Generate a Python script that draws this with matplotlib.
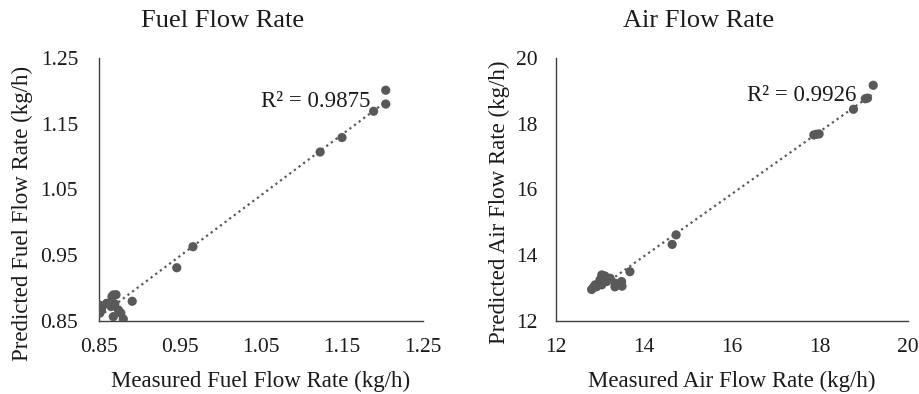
"""
Measured vs predicted flow rates - fuel and air
"""
import numpy as np
import matplotlib
matplotlib.use('Agg')
import matplotlib.pyplot as plt

# Fuel flow rate (kg/h)
fuel_measured = [0.851, 0.851, 0.853, 0.854, 0.8595, 0.865, 0.866, 0.8677, 0.8677,
                 0.8695, 0.871, 0.874, 0.877, 0.880, 0.891, 0.946, 0.966,
                 1.123, 1.150, 1.189, 1.204, 1.204]
fuel_predicted = [0.862, 0.874, 0.8667, 0.872, 0.877, 0.872, 0.887, 0.8566, 0.8896,
                  0.876, 0.890, 0.8667, 0.862, 0.853, 0.880, 0.931, 0.963,
                  1.107, 1.129, 1.169, 1.180, 1.201]
fuel_r2 = "R\u00b2 = 0.9875"

# Air flow rate (kg/h)
air_measured = [12.81, 12.85, 12.89, 12.92, 13.00, 13.04, 13.04, 13.11, 13.15, 13.23,
                13.34, 13.34, 13.49, 13.50, 13.68, 14.64, 14.73,
                17.86, 17.92, 17.98, 18.76, 19.03, 19.08, 19.21]
air_predicted = [12.96, 13.02, 13.10, 13.04, 13.25, 13.10, 13.40, 13.37, 13.20, 13.30,
                 13.15, 13.04, 13.20, 13.06, 13.50, 14.33, 14.62,
                 17.66, 17.68, 17.69, 18.44, 18.76, 18.78, 19.17]
air_r2 = "R\u00b2 = 0.9926"

fuel_ticks = [0.85, 0.95, 1.05, 1.15, 1.25]
air_ticks = [12, 14, 16, 18, 20]

plt.rcParams['font.family'] = ['Liberation Serif', 'DejaVu Serif']

DOT = '#595959'
TXT = '#1a1a1a'


def draw_panel(ax, x, y, ticks, fmt, r2_text, r2_pos, xlabel, ylabel, ylab_xy, ypad):
    x = np.array(x)
    y = np.array(y)

    # linear trendline through the points
    slope, icpt = np.polyfit(x, y, 1)
    xs = np.array([x.min(), x.max()])
    ax.plot(xs, slope * xs + icpt, color=DOT, linestyle=(0, (1, 1.6)), linewidth=1.6, zorder=2)

    ax.scatter(x, y, s=44, color=DOT, edgecolors='none', zorder=3)

    ax.set_xlim(ticks[0], ticks[-1])
    ax.set_ylim(ticks[0], ticks[-1])
    ax.set_xticks(ticks)
    ax.set_yticks(ticks)
    ax.set_xticklabels([fmt.format(t) for t in ticks])
    ax.set_yticklabels([fmt.format(t) for t in ticks])
    ax.tick_params(axis='x', length=0, pad=12, labelsize=15.5, labelcolor=TXT)
    ax.tick_params(axis='y', length=0, pad=ypad, labelsize=15.5, labelcolor=TXT)

    for side in ['top', 'right']:
        ax.spines[side].set_visible(False)
    for side in ['left', 'bottom']:
        ax.spines[side].set_color('#404040')
        ax.spines[side].set_linewidth(1.0)

    ax.text(r2_pos[0], r2_pos[1], r2_text, ha='right', va='center', fontsize=16.5, color=TXT)

    ax.set_xlabel(xlabel, fontsize=16.5, color=TXT, labelpad=10)
    ax.set_ylabel(ylabel, fontsize=16.5, color=TXT)
    ax.yaxis.set_label_coords(ylab_xy[0], ylab_xy[1])


fig = plt.figure(figsize=(9.2, 3.94), dpi=100)

ax1 = fig.add_axes([99 / 920, 1 - 321 / 394, 324 / 920, 263 / 394])
draw_panel(ax1, fuel_measured, fuel_predicted, fuel_ticks, "{:.2f}", fuel_r2, (1.185, 1.1835),
           "Measured Fuel Flow Rate (kg/h)", "Predicted Fuel Flow Rate (kg/h)",
           (-0.204, 0.41), 15)

ax2 = fig.add_axes([556 / 920, 1 - 321 / 394, 352 / 920, 263 / 394])
draw_panel(ax2, air_measured, air_predicted, air_ticks, "{:d}", air_r2, (18.83, 18.87),
           "Measured Air Flow Rate (kg/h)", "Predicted Air Flow Rate (kg/h)",
           (-0.131, 0.45), 13.5)

fig.text(223 / 920, 1 - 21 / 394, "Fuel Flow Rate", ha='center', va='center', fontsize=19, color=TXT)
fig.text(699 / 920, 1 - 21 / 394, "Air Flow Rate", ha='center', va='center', fontsize=19, color=TXT)

fig.savefig('out.png', dpi=100)
